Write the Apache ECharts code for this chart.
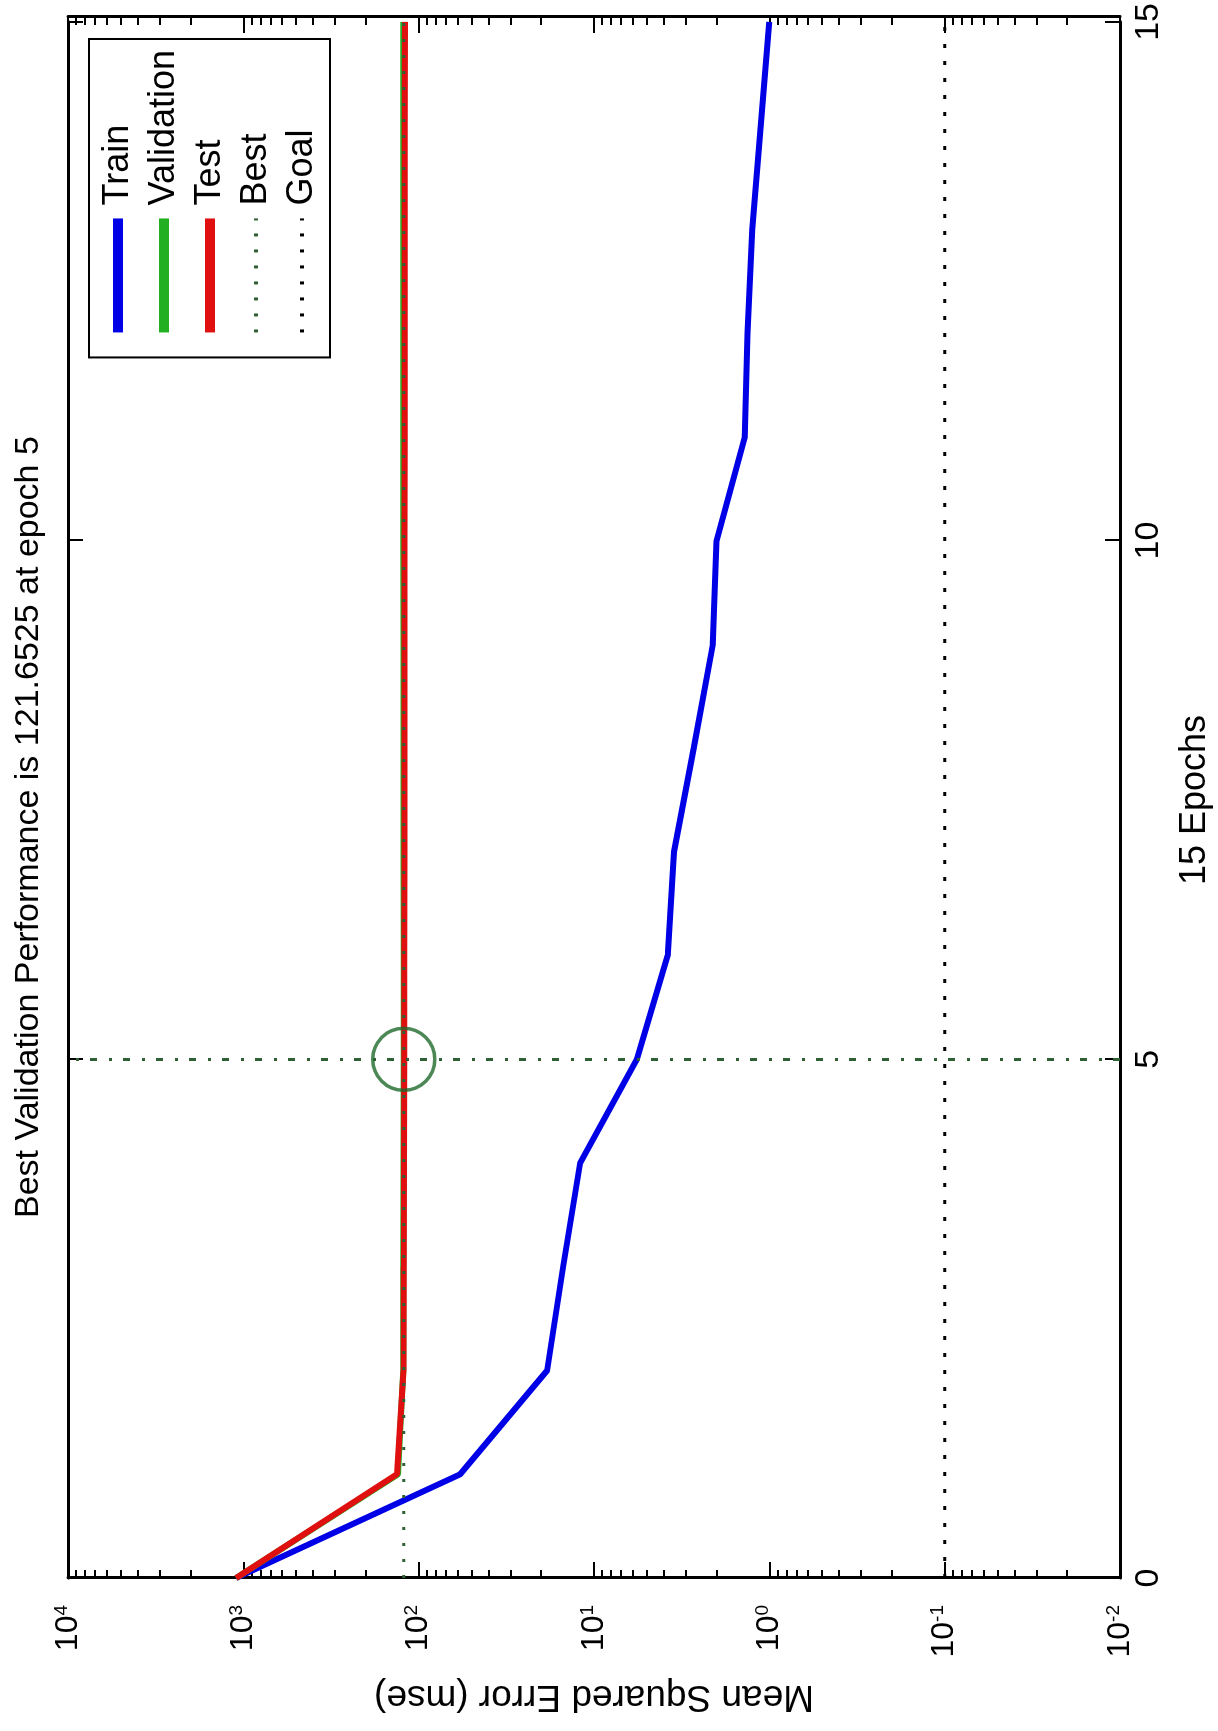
<!DOCTYPE html>
<html>
<head>
<meta charset="utf-8">
<script src="https://cdn.jsdelivr.net/npm/echarts@6/dist/echarts.min.js"></script>
<style>
html,body{margin:0;padding:0;background:#fff;overflow:hidden;width:1218px;height:1731px;}
#chart{position:absolute;left:0;top:0;width:1731px;height:1218px;transform-origin:0 0;transform:translate(0,1731px) rotate(-90deg);}
</style>
</head>
<body>
<div id="chart"></div>
<script>
// ---- data ----
const epochs = [0, 1, 2, 3, 4, 5, 6, 7, 8, 9, 10, 11, 12, 13, 14, 15];
const trainMSE = [1100, 58, 18.5, 15, 12, 5.7, 3.8, 3.5, 2.7, 2.1, 2.0, 1.38, 1.33, 1.25, 1.12, 1.0];
const validationMSE = [1100, 131, 122.6, 122.3, 121.9, 121.6525, 121.8, 122.0, 122.1, 122.2, 122.3, 122.3, 122.4, 122.4, 122.5, 122.5];
const testMSE = [1100, 133, 122.0, 121.5, 121.2, 121.0, 120.8, 120.6, 120.5, 120.4, 120.3, 120.2, 120.1, 120.0, 119.9, 119.8];
const bestEpoch = 5;
const bestPerf = 121.6525;
const goalMSE = 0.1;
const epochTicks = [0, 5, 10, 15];
const mseDecades = [0.01, 0.1, 1, 10, 100, 1000, 10000];
const minorMultipliers = [2, 3, 4, 5, 6, 7, 8, 9];
const legendNames = ['Train', 'Validation', 'Test', 'Best', 'Goal'];
const titleText = 'Best Validation Performance is 121.6525 at epoch 5';
const xName = '15 Epochs';
const yName = 'Mean Squared Error (mse)';

// ---- layout / styles ----
const W = 1731, H = 1218;
const G = {left: 153, right: 17, top: 68, bottom: 98};
const gridW = W - G.left - G.right, gridH = H - G.top - G.bottom;
const FONT = "'Liberation Sans', Arial, Helvetica, sans-serif";
const C_TRAIN = '#0000e6', C_VAL = '#22b022', C_TEST = '#e01010', C_BEST = '#2f5f34', C_GOAL = '#000000', C_CIRCLE = '#1f6a2c';

const minorTickValues = [];
for (let i = 0; i < mseDecades.length - 1; i++) {
  for (const m of minorMultipliers) minorTickValues.push(+(mseDecades[i] * m).toPrecision(3));
}
const pairs = (vals) => epochs.map((e, i) => [e, vals[i]]);
const eMin = epochs[0], eMax = epochs[epochs.length - 1];

function logLabel(v) {
  const e = Math.round(Math.log10(v));
  return '{a|10}{b|' + e + '}';
}

const chart = echarts.init(document.getElementById('chart'), null, {renderer: 'canvas'});

const commonLog = {
  type: 'log', logBase: 10, min: mseDecades[0], max: mseDecades[mseDecades.length - 1],
  splitLine: {show: false}, minorTick: {show: false}, minorSplitLine: {show: false}
};
const blackTick = {color: '#000', width: 2};

const option = {
  animation: false,
  backgroundColor: '#ffffff',
  title: {
    text: titleText, left: 513, top: 12, padding: 0,
    textStyle: {fontFamily: FONT, fontSize: 34, fontWeight: 'normal', color: '#000', lineHeight: 34}
  },
  legend: {
    orient: 'vertical', right: 39, top: 89, padding: [11, 11, 10, 20],
    borderColor: '#000', borderWidth: 2, backgroundColor: '#fff',
    itemWidth: 114, itemHeight: 20, itemGap: 10, selectedMode: false,
    textStyle: {fontFamily: FONT, fontSize: 36, color: '#000', lineHeight: 36, padding: [0, 0, 0, 8]},
    itemStyle: {opacity: 0},
    data: [
      {name: legendNames[0], itemStyle: {opacity: 0}, lineStyle: {width: 10, color: C_TRAIN, type: 'solid'}},
      {name: legendNames[1], itemStyle: {opacity: 0}, lineStyle: {width: 10, color: C_VAL, type: 'solid'}},
      {name: legendNames[2], itemStyle: {opacity: 0}, lineStyle: {width: 10, color: C_TEST, type: 'solid'}},
      {name: legendNames[3], itemStyle: {opacity: 0}, lineStyle: {width: 4, color: C_BEST, type: [3, 13]}},
      {name: legendNames[4], itemStyle: {opacity: 0}, lineStyle: {width: 4, color: C_GOAL, type: [3, 13]}}
    ]
  },
  grid: {left: G.left, right: G.right, top: G.top, bottom: G.bottom},
  xAxis: [
    {
      type: 'value', min: eMin, max: eMax, interval: 5, position: 'bottom',
      axisLine: {show: true, onZero: false, lineStyle: {color: '#000', width: 3}},
      axisTick: {show: true, inside: true, length: 15, lineStyle: blackTick},
      axisLabel: {show: true, margin: 12, fontFamily: FONT, fontSize: 34, color: '#000',
        formatter: (v) => epochTicks.indexOf(v) >= 0 ? String(v) : ''},
      splitLine: {show: false},
      name: xName, nameLocation: 'middle', nameGap: 57,
      nameTextStyle: {fontFamily: FONT, fontSize: 36, color: '#000'}
    },
    {
      // top border: a bottom axis shifted up to the top edge of the plot, ticks pointing into the plot
      type: 'value', min: eMin, max: eMax, interval: 5, position: 'bottom', offset: -gridH,
      axisLine: {show: true, onZero: false, lineStyle: {color: '#000', width: 3}},
      axisTick: {show: true, inside: false, length: 15, lineStyle: blackTick},
      axisLabel: {show: false}, splitLine: {show: false}
    }
  ],
  yAxis: [
    Object.assign({}, commonLog, {
      position: 'left',
      axisLine: {show: true, onZero: false, lineStyle: {color: '#000', width: 3}},
      axisTick: {show: true, inside: true, length: 16, lineStyle: blackTick},
      axisLabel: {
        show: true, margin: 27, formatter: logLabel, color: '#000',
        rich: {
          a: {fontFamily: FONT, fontSize: 32, color: '#000', lineHeight: 32, padding: [14, 0, 0, 0], verticalAlign: 'bottom'},
          b: {fontFamily: FONT, fontSize: 19, color: '#000', lineHeight: 22, verticalAlign: 'top'}
        }
      },
      name: yName, nameLocation: 'middle', nameGap: 100,
      nameTextStyle: {fontFamily: FONT, fontSize: 37, color: '#000'}
    }),
    Object.assign({}, commonLog, {
      // right border: a left axis shifted to the right edge, ticks pointing into the plot
      position: 'left', offset: -gridW,
      axisLine: {show: true, onZero: false, lineStyle: {color: '#000', width: 3}},
      axisTick: {show: true, inside: false, length: 16, lineStyle: blackTick},
      axisLabel: {show: false}
    }),
    Object.assign({}, commonLog, {
      position: 'left',
      axisLine: {show: false},
      axisTick: {show: true, inside: true, length: 8, customValues: minorTickValues, lineStyle: blackTick},
      axisLabel: {show: false}
    }),
    Object.assign({}, commonLog, {
      position: 'left', offset: -gridW,
      axisLine: {show: false},
      axisTick: {show: true, inside: false, length: 8, customValues: minorTickValues, lineStyle: blackTick},
      axisLabel: {show: false}
    })
  ],
  series: [
    {name: legendNames[0], type: 'line', data: pairs(trainMSE), symbol: 'none', showSymbol: false,
      lineStyle: {color: C_TRAIN, width: 6}, itemStyle: {color: C_TRAIN}, z: 3},
    {name: legendNames[1], type: 'line', data: pairs(validationMSE), symbol: 'none', showSymbol: false,
      lineStyle: {color: C_VAL, width: 6}, itemStyle: {color: C_VAL}, z: 3},
    {name: legendNames[2], type: 'line', data: pairs(testMSE), symbol: 'none', showSymbol: false,
      lineStyle: {color: C_TEST, width: 6}, itemStyle: {color: C_TEST}, z: 3},
    {name: legendNames[3], type: 'line', data: [[eMin, bestPerf], [eMax, bestPerf]], symbol: 'none', showSymbol: false,
      lineStyle: {color: C_BEST, width: 3, type: [3, 13]}, itemStyle: {color: C_BEST}, z: 4,
      markLine: {silent: true, animation: false, symbol: ['none', 'none'], label: {show: false},
        lineStyle: {color: C_BEST, width: 3, type: [7, 11, 3, 12]},
        emphasis: {disabled: true},
        data: [{xAxis: bestEpoch}]}},
    {name: legendNames[4], type: 'line', data: [[eMin, goalMSE], [eMax, goalMSE]], symbol: 'none', showSymbol: false,
      lineStyle: {color: C_GOAL, width: 3, type: [4, 13]}, itemStyle: {color: C_GOAL}, z: 4},
    {name: 'Best point', type: 'scatter', data: [[bestEpoch, bestPerf]], symbol: 'circle', symbolSize: 62,
      itemStyle: {color: 'rgba(0,0,0,0)', borderColor: C_CIRCLE, borderWidth: 3.5}, z: 5, silent: true}
  ]
};
chart.setOption(option);
</script>
</body>
</html>
